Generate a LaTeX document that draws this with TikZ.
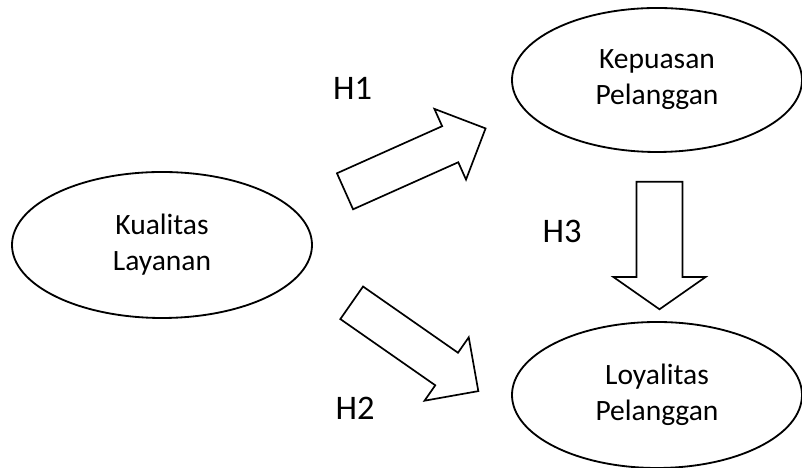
\documentclass[tikz,border=0pt]{standalone}
\usepackage{fontspec}
\setmainfont{Carlito}
\usepackage{tikz}
\usetikzlibrary{shapes.geometric,shapes.arrows}

\begin{document}
\begin{tikzpicture}[every node/.style={outer sep=0pt},
        var/.style={ellipse, draw, line width=1.3pt, inner sep=0pt, align=center, font=\fontsize{21}{25.6}\selectfont},
        hyp/.style={font=\fontsize{24.5}{29}\selectfont},
        bigarrow/.style={single arrow, draw, line width=1.2pt, anchor=tail, inner xsep=0pt}]
            \useasboundingbox (0,0) rectangle (20.05,11.7);
            \node[var, minimum width=7.5cm, minimum height=3.65cm] (kualitas) at (4.05,5.575) {Kualitas\\Layanan};
            \node[var, minimum width=7.25cm, minimum height=3.6cm] (kepuasan) at (16.425,9.7) {Kepuasan\\Pelanggan};
            \node[var, minimum width=7.25cm, minimum height=3.65cm] (loyalitas) at (16.425,1.825) {Loyalitas\\Pelanggan};
            \node[bigarrow, rotate=24.1, inner ysep=0.4725cm, single arrow head extend=0.475cm, minimum height=3.85cm] (h1arrow) at (8.625,6.9175) {};
            \node[bigarrow, rotate=-34.9, inner ysep=0.475cm, single arrow head extend=0.47cm, minimum height=3.86cm] (h2arrow) at (8.7925,4.13) {};
            \node[bigarrow, rotate=-90, inner ysep=0.555cm, single arrow head extend=0.58cm, single arrow tip angle=110, minimum height=3.19cm] (h3arrow) at (16.4875,7.1575) {};
            \node[hyp] (h1) at (8.8125,9.5) {H1};
            \node[hyp] (h2) at (8.875,1.5) {H2};
            \node[hyp] (h3) at (14.05,5.925) {H3};
        \end{tikzpicture}
\end{document}
